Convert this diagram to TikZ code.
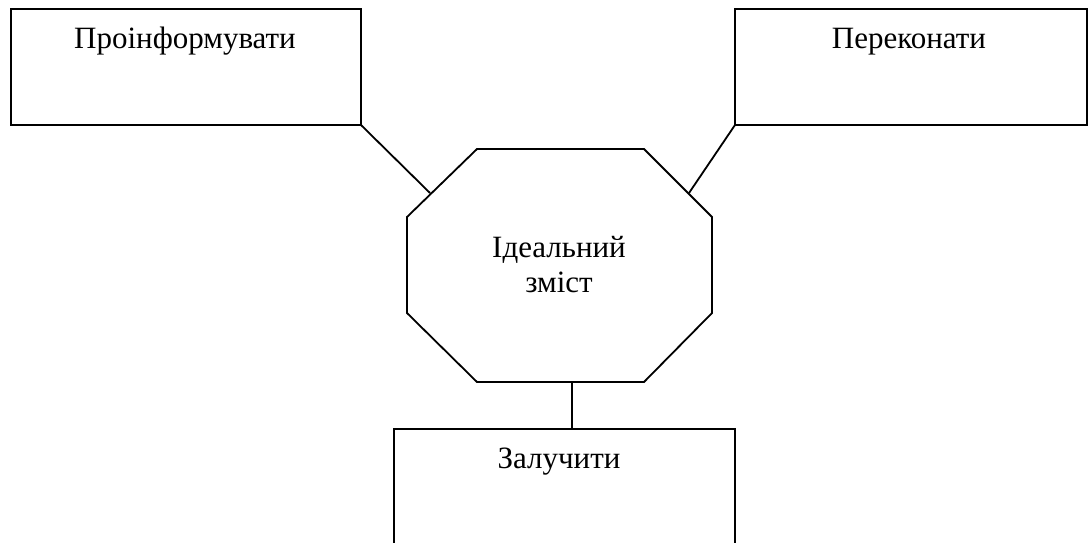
\documentclass[tikz,border=0pt]{standalone}
\usepackage{fontspec}
\setmainfont{Liberation Serif}
\begin{document}
\begin{tikzpicture}[x=1pt,y=-1pt,
  box/.style={draw,line width=1.8pt,inner sep=0pt,outer sep=0pt},
  conn/.style={line width=1.8pt},
  txt/.style={inner sep=0pt,font=\fontsize{31}{35}\selectfont},
  outline/.style={line width=1.8pt,line join=miter}]
\useasboundingbox (0,0) rectangle (1090,542);
\clip (0,0) rectangle (1090,542);
% boxes
\node[box,minimum width=350pt,minimum height=116pt] (inform) at (186,67) {};
\node[box,minimum width=352pt,minimum height=116pt] (persuade) at (911,67) {};
\node[box,minimum width=341pt,minimum height=140pt] (engage) at (564.5,499) {};
% octagon
\coordinate (o1) at (477,149);
\coordinate (o2) at (644,149);
\coordinate (o3) at (712,217);
\coordinate (o4) at (712,313);
\coordinate (o5) at (644,382);
\coordinate (o6) at (477,382);
\coordinate (o7) at (407,313);
\coordinate (o8) at (407,217);
\draw[outline] (o1) -- (o2) -- (o3) -- (o4) -- (o5) -- (o6) -- (o7) -- (o8) -- cycle;
\coordinate (pL) at (430,193);
\coordinate (pR) at (689,193);
\coordinate (pB) at (572,382);
% texts
\node[txt,anchor=base] (tinform) at (185,48) {Проінформувати};
\node[txt,anchor=base] (tpersuade) at (909,48) {Переконати};
\node[txt,anchor=base] (tengage) at (559,468) {Залучити};
\node[txt,align=center] (ideal) at (559,265) {Ідеальний\\зміст};
% connectors
\draw[conn] (inform.south east) -- (pL);
\draw[conn] (persuade.south west) -- (pR);
\draw[conn] (pB) -- (pB |- engage.north);
\end{tikzpicture}
\end{document}
